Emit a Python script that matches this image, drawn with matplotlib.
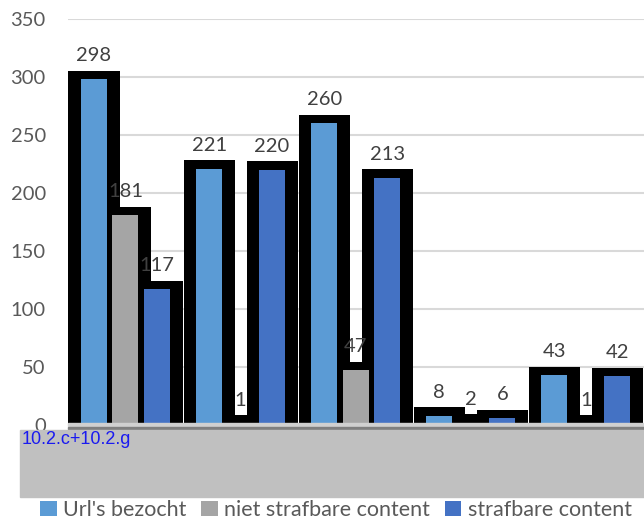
import numpy as np
import matplotlib.pyplot as plt
from matplotlib.patches import Patch, Rectangle

# ------------------------------------------------------------------------------
# Data
# ------------------------------------------------------------------------------
series_names = ["Url's bezocht", "niet strafbare content", "strafbare content"]
url_bezocht = [298, 221, 260, 8, 43]
niet_strafbaar = [181, 1, 47, 2, 1]
strafbaar = [117, 220, 213, 6, 42]
category = "10.2.c+10.2.g"
y_ticks = [0, 50, 100, 150, 200, 250, 300, 350]

colors = ['#5B9BD5', '#A5A5A5', '#4472C4']

plt.rcParams['font.family'] = ['Lato', 'DejaVu Sans']

# ------------------------------------------------------------------------------
# Figure
# ------------------------------------------------------------------------------
fig = plt.figure(figsize=(6.44, 5.27), dpi=100)
ax = fig.add_axes([68 / 644, 102 / 527, 576 / 644, 406 / 527])

group_step = 3.654
inner_w = 0.825
outer_w = 1.62
pad = 7.3          # black frame above bar top (data units)

values = [url_bezocht, niet_strafbaar, strafbaar]
n_groups = len(url_bezocht)
base = np.arange(n_groups) * group_step

for j, vals in enumerate(values):
    xs = base + (j - 1)
    ax.bar(xs, np.array(vals) + pad, width=outer_w, color='black',
           linewidth=0, zorder=2)

for j, vals in enumerate(values):
    xs = base + (j - 1)
    ax.bar(xs, vals, width=inner_w, color=colors[j], linewidth=0, zorder=3)
    for x, v in zip(xs, vals):
        ax.annotate(str(v), (x, v), xytext=(0, 17), textcoords='offset points',
                    ha='center', va='center', fontsize=14.5, color='#404040',
                    zorder=5, annotation_clip=False)

ax.set_xlim(-1.825, 16.46)
ax.set_ylim(0, 350)
ax.set_yticks(y_ticks)
ax.set_xticks([])
ax.tick_params(axis='y', length=0, pad=16, labelsize=14.5, labelcolor='#595959')
ax.yaxis.grid(True, color='#D9D9D9', linewidth=1.5, zorder=0)
ax.set_axisbelow(True)
for s in ax.spines.values():
    s.set_visible(False)

# axis line and category band
fig.add_artist(Rectangle((68 / 644, (527 - 426) / 527), 576 / 644, 3 / 527,
                         transform=fig.transFigure, color='#D0D0D0', zorder=6))
fig.add_artist(Rectangle((68 / 644, (527 - 429) / 527), 576 / 644, 2.5 / 527,
                         transform=fig.transFigure, color='#7F7F7F', zorder=6))
fig.add_artist(Rectangle((20 / 644, (527 - 497) / 527), 624 / 644, 67 / 527,
                         transform=fig.transFigure, color='#C0C0C0', zorder=6))
fig.text(22 / 644, (527 - 431) / 527, category, ha='left', va='top',
         fontsize=13, color='#1A1AF0', family='Liberation Sans', zorder=7)

handles = [Patch(facecolor=c, edgecolor='none') for c in colors]
fig.legend(handles, series_names, loc='center', ncol=3,
           bbox_to_anchor=(336 / 644, (527 - 510) / 527), frameon=False,
           fontsize=15.5, labelcolor='#595959', handlelength=0.75,
           handleheight=0.75, handletextpad=0.3, columnspacing=0.7)

fig.savefig('out.png', dpi=100)
